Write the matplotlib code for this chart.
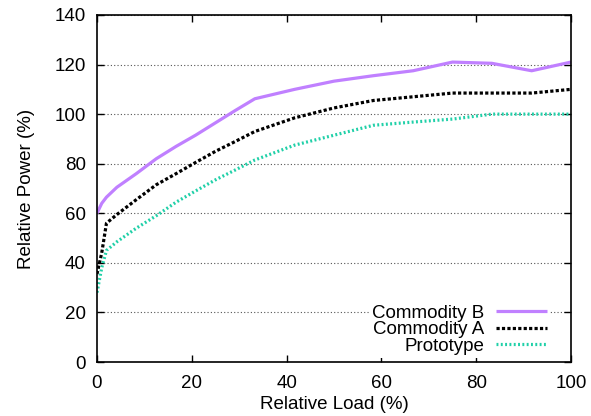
import numpy as np
import matplotlib.pyplot as plt

plt.rcParams['font.family'] = ['Liberation Sans', 'DejaVu Sans']

# relative load (%) sample points shared by all three curves
load = [0, 1, 2, 4.2, 8.3, 12.5, 16.7, 20.8, 25, 29.2, 33.3, 41.7, 50, 58.3, 66.7, 75, 83.3, 91.7, 100]

commodity_b = [60, 64, 66.5, 70.5, 76, 82, 87, 91.5, 96.5, 101.5, 106.2, 110, 113.3, 115.5, 117.5, 121, 120.5, 117.5, 121]
commodity_a = [35.5, 44, 56, 59.5, 65.5, 71.5, 76, 80.5, 85, 89, 93, 98.5, 102.5, 105.5, 107, 108.5, 108.5, 108.5, 110]
prototype = [28, 38, 45, 48.5, 54, 59, 64.5, 69, 73.5, 77.5, 81.5, 87.5, 91.5, 95.5, 96.8, 98, 100, 100, 100]

fs = 13.5

fig = plt.figure(figsize=(5.91, 4.16), dpi=100)
ax = fig.add_axes([0.1641, 0.1298, 0.8021, 0.8342])

ax.plot(load, commodity_b, color='#c080ff', lw=2.3, solid_capstyle='butt', label='Commodity B')
ax.plot(load, commodity_a, color='black', lw=2.3, dashes=(1, 0.7), dash_capstyle='butt', label='Commodity A')
ax.plot(load, prototype, color='#20d0a8', lw=2.3, dashes=(0.6, 0.75), dash_capstyle='butt', label='Prototype')

ax.set_xlim(0, 100)
ax.set_ylim(0, 140)
ax.set_xticks(np.arange(0, 101, 20))
ax.set_yticks(np.arange(0, 141, 20))
ax.tick_params(direction='in', top=True, right=True, length=5, width=1, labelsize=fs)
ax.tick_params(axis='x', pad=9)
ax.tick_params(axis='y', pad=8)
ax.yaxis.grid(True, linestyle=(0, (1, 2)), color='#555555', lw=0.8)
for s in ax.spines.values():
    s.set_linewidth(1.2)

ax.set_xlabel('Relative Load (%)', fontsize=fs, labelpad=3)
ax.set_ylabel('Relative Power (%)', fontsize=fs, labelpad=14)

leg = ax.legend(loc='lower right', frameon=True, fontsize=fs, markerfirst=False,
                handlelength=2.7, handletextpad=0.65, labelspacing=-0.02,
                borderaxespad=0, borderpad=0.15, fancybox=False,
                bbox_to_anchor=(0.955, 0.012))
leg.get_frame().set_edgecolor('none')
leg.get_frame().set_alpha(1)
for t in leg.get_texts():
    t.set_ha('right')
leg._legend_box.align = 'right'
for vp in leg._legend_handle_box.get_children():
    vp.align = 'right'

fig.savefig('out.png', dpi=100)
